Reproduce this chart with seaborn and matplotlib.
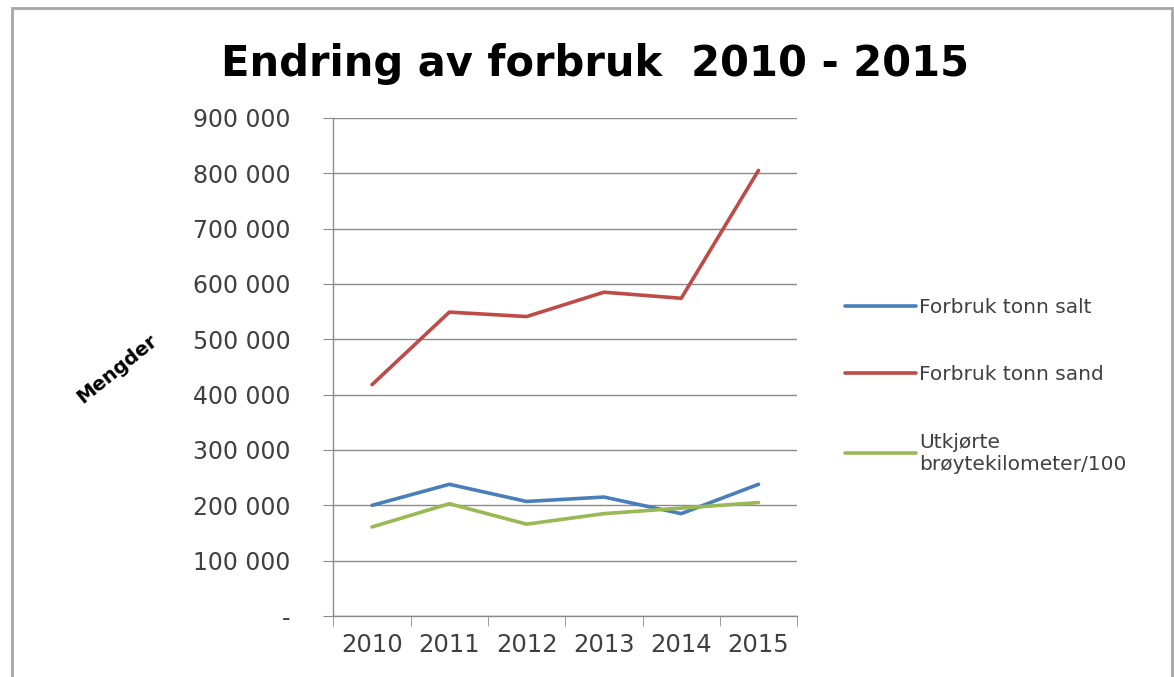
from __future__ import annotations

import matplotlib
import pandas as pd
import seaborn as sns

matplotlib.use("Agg")
import matplotlib.pyplot as plt
from matplotlib.patches import Rectangle
from matplotlib.ticker import FuncFormatter


YEARS = ["2010", "2011", "2012", "2013", "2014", "2015"]
SALT = [200000, 238000, 207000, 215000, 185000, 238000]
SAND = [418000, 549000, 541000, 585000, 574000, 805000]
KM_100 = [161000, 203000, 166000, 185000, 195000, 205000]
SERIES_NAMES = [
    "Forbruk tonn salt",
    "Forbruk tonn sand",
    "Utkjørte\nbrøytekilometer/100",
]
COLORS = ["#4a7ebb", "#be4b48", "#98b954"]
Y_TICKS = [0, 100000, 200000, 300000, 400000, 500000, 600000, 700000, 800000, 900000]


def thousands(value: float, _pos) -> str:
    if value == 0:
        return "-"
    return f"{int(value):,}".replace(",", " ")


def build_frame() -> pd.DataFrame:
    rows = []
    for name, values in zip(SERIES_NAMES, [SALT, SAND, KM_100]):
        for idx, (year, val) in enumerate(zip(YEARS, values)):
            rows.append({"pos": idx, "year": year, "value": val, "series": name})
    return pd.DataFrame(rows)


def main() -> None:
    df = build_frame()

    sns.set_style("white")
    plt.rcParams["font.family"] = ["DejaVu Sans"]

    fig = plt.figure(figsize=(11.74, 6.77), dpi=100)
    ax = fig.add_axes([0.284, 0.090, 0.395, 0.736])

    sns.lineplot(
        data=df,
        x="pos",
        y="value",
        hue="series",
        hue_order=SERIES_NAMES,
        palette=COLORS,
        linewidth=2.6,
        ax=ax,
    )

    ax.set_xlim(-0.5, len(YEARS) - 0.5)
    ax.set_ylim(0, 900000)
    ax.set_yticks(Y_TICKS)
    ax.yaxis.set_major_formatter(FuncFormatter(thousands))
    ax.set_xticks(range(len(YEARS)))
    ax.set_xticklabels(YEARS)
    ax.set_xticks([i - 0.5 for i in range(len(YEARS) + 1)], minor=True)
    ax.tick_params(axis="x", which="major", length=0, pad=12, labelsize=17.5, labelcolor="#404040")
    ax.tick_params(axis="x", which="minor", length=7, color="#8c8c8c", bottom=True)
    ax.tick_params(axis="y", length=7, color="#8c8c8c", pad=24, labelsize=17, labelcolor="#404040", left=True)

    ax.grid(axis="y", color="#8c8c8c", linewidth=1.0)
    ax.set_axisbelow(True)
    for side in ["top", "right"]:
        ax.spines[side].set_visible(False)
    for side in ["left", "bottom"]:
        ax.spines[side].set_color("#8c8c8c")
        ax.spines[side].set_linewidth(1.0)

    ax.set_xlabel("")
    ax.set_ylabel("")
    fig.text(0.100, 0.455, "Mengder", rotation=39, fontsize=14, fontweight="bold",
             color="black", ha="center", va="center")

    fig.text(0.507, 0.906, "Endring av forbruk  2010 - 2015", fontsize=30,
             fontweight="bold", color="black", ha="center", va="center")

    handles, labels = ax.get_legend_handles_labels()
    ax.legend(
        handles,
        labels,
        loc="upper left",
        bbox_to_anchor=(1.065, 0.675),
        frameon=False,
        fontsize=14.5,
        handlelength=3.5,
        handletextpad=0.15,
        labelspacing=2.4,
        labelcolor="#404040",
    )

    fig.patches.append(
        Rectangle((0.010, -0.01), 0.988, 0.998, transform=fig.transFigure,
                  fill=False, edgecolor="#a6a6a6", linewidth=2)
    )

    fig.savefig("out.png", dpi=100)
    plt.close(fig)


if __name__ == "__main__":
    main()
